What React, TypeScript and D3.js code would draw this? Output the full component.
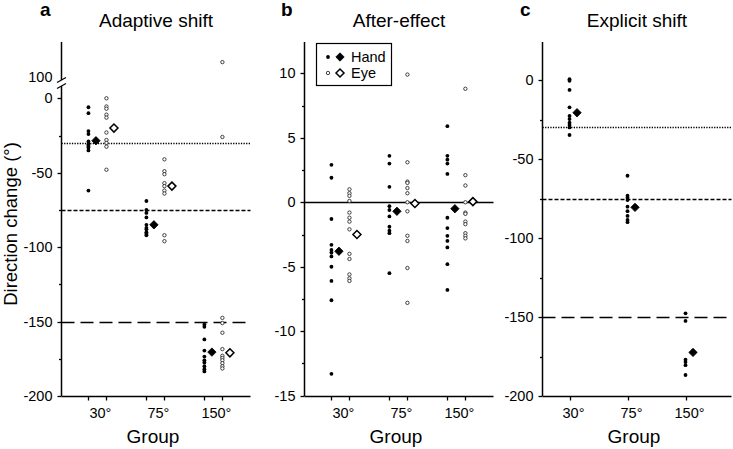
import React from "react";
import * as d3 from "d3";

const groups = ["30°", "75°", "150°"];

// Panel a: Adaptive shift
const adaptHand = [
  [-6, -10, -22, -24, -29, -31, -32, -33, -35, -62],
  [-69, -75, -77, -80, -85, -87, -88, -90, -91, -92],
  [-152, -153.5, -162, -169.5, -173.5, -176, -177.5, -180, -182, -183.5],
];
const adaptEye = [
  [0, -5.5, -7, -11, -13, -23, -28, -30, -32.5, -48],
  [-41, -49, -51, -57, -59, -62, -64, -92, -96],
  [-26, -147.5, -151, -157.5, -168.5, -173, -174.5, -176, -178, -180, -181.5],
];
const adaptEyeOutlier = [null, null, 110];
const adaptHandMean = [-28.5, -85, -170.5];
const adaptEyeMean = [-20, -59, -171];

// Panel b: After-effect
const afterHand = [
  [2.9, 1.9, -1.3, -3.3, -3.7, -3.9, -4.2, -5.0, -6.1, -7.6, -13.3],
  [3.6, 3.0, 1.2, -0.3, -0.6, -1.1, -1.9, -2.2, -2.4, -5.5],
  [5.9, 3.6, 3.3, 3.0, 2.2, -1.2, -2.0, -2.6, -3.0, -3.5, -4.8, -6.8],
];
const afterEye = [
  [1.0, 0.7, 0.5, 0.1, -0.8, -1.2, -1.5, -2.1, -4.0, -4.4, -5.6, -5.9, -6.1],
  [9.9, 3.1, 1.6, 1.5, 1.1, 0.7, 0, -0.7, -2.6, -3.0, -5.1, -7.8],
  [8.8, 2.1, 1.3, 0, -0.8, -0.9, -1.5, -1.7, -2.4, -2.6, -2.8],
];
const afterHandMean = [-3.8, -0.7, -0.5];
const afterEyeMean = [-2.5, -0.1, 0.05];

// Panel c: Explicit shift
const explicitHand = [
  [0.5, -0.5, -6.3, -17.3, -22.8, -24.7, -27, -28.5, -30, -34.8],
  [-60.6, -73.2, -74.5, -76, -80.2, -83, -86, -88.6, -90],
  [-147.7, -152.5, -177, -178.5, -180.5, -186.7],
];
const explicitHandMean = [-20.7, -80.6, -172.4];

const adaptTicks = [-200, -150, -100, -50, 0];
const adaptMinor = [-175, -125, -75, -25];
const afterTicks = [-15, -10, -5, 0, 5, 10];
const afterMinor = [-12.5, -7.5, -2.5, 2.5, 7.5];
const refLines = [
  { v: -30, dash: "1.3,1.3" },
  { v: -75, dash: "4,2" },
  { v: -150, dash: "13,6" },
];

const FONT = "'Liberation Sans', Arial, sans-serif";
const TOP = 42;
const BOTTOM = 396;
const AX_W = 189;
const px = (v: number) => Math.round(v) + 0.5;

const Diamond = ({ x, y, r, filled }: any) => (
  <path
    d={`M${x},${y - r}L${x + r},${y}L${x},${y + r}L${x - r},${y}Z`}
    fill={filled ? "#000" : "#fff"}
    stroke="#000"
    strokeWidth={filled ? 0.8 : 1.5}
  />
);

const Dot = ({ x, y, filled }: any) =>
  filled ? (
    <circle cx={x} cy={y} r={1.9} fill="#000" />
  ) : (
    <circle cx={x} cy={y} r={1.7} fill="#fff" stroke="#222" strokeWidth={0.85} />
  );

function YTicks({ x0, y, major, minor }: any) {
  return (
    <g>
      {major.map((t: number) => (
        <g key={"M" + t}>
          <line x1={x0 - 4} x2={x0} y1={px(y(t))} y2={px(y(t))} stroke="#000" strokeWidth={1.3} />
          <text x={x0 - 9} y={y(t)} dy="0.35em" textAnchor="end" fontSize={14.5} fontFamily={FONT}>
            {t}
          </text>
        </g>
      ))}
      {minor.map((t: number) => (
        <line key={"m" + t} x1={x0 - 2.5} x2={x0} y1={px(y(t))} y2={px(y(t))} stroke="#000" strokeWidth={1.3} />
      ))}
    </g>
  );
}

function Panel({ x0, letter, title, children }: any) {
  return (
    <g>
      <text x={letter.x} y={16} fontSize={19} fontWeight="bold" fontFamily={FONT}>
        {letter.t}
      </text>
      <text x={x0 + AX_W / 2} y={27} textAnchor="middle" fontSize={19} fontFamily={FONT}>
        {title}
      </text>
      <text x={x0 + AX_W / 2 - 3} y={443} textAnchor="middle" fontSize={19} fontFamily={FONT}>
        Group
      </text>
      {children}
    </g>
  );
}

export default function App() {
  // Panel a
  const aX0 = 61.5;
  const xa = d3.scaleLinear().domain([-0.62, 2.64]).range([aX0, aX0 + AX_W]);
  const ya = d3.scaleLinear().domain([-200, 0]).range([BOTTOM, 98.3]);
  const yaUp = d3.scaleLinear().domain([100, 123.5]).range([77, TOP]);

  // Panel b
  const bX0 = 304.5;
  const xb = d3.scaleLinear().domain([-0.62, 2.64]).range([bX0, bX0 + AX_W]);
  const yb = d3.scaleLinear().domain([-15, 10]).range([395.7, 73.3]);

  // Panel c
  const cX0 = 542.5;
  const xc = d3.scaleLinear().domain([-0.466, 2.793]).range([cX0, cX0 + AX_W]);
  const yc = d3.scaleLinear().domain([-200, 0]).range([BOTTOM, 80]);

  const HO = -9; // hand offset
  const EO = 9; // eye offset
  const MO = 7.5; // mean offset

  const xAxisLine = (x0: number) => (
    <line x1={x0} x2={x0 + AX_W} y1={px(BOTTOM)} y2={px(BOTTOM)} stroke="#000" strokeWidth={1.5} />
  );

  const xTicksPair = (x: any) =>
    groups.map((g, i) => (
      <g key={g}>
        <line x1={px(x(i) + HO)} x2={px(x(i) + HO)} y1={BOTTOM} y2={BOTTOM + 4.5} stroke="#000" strokeWidth={1.3} />
        <line x1={px(x(i) + EO)} x2={px(x(i) + EO)} y1={BOTTOM} y2={BOTTOM + 4.5} stroke="#000" strokeWidth={1.3} />
        <text x={x(i) + 3} y={418} textAnchor="middle" fontSize={14.5} fontFamily={FONT}>
          {g}
        </text>
      </g>
    ));

  const refLineEls = (x0: number, y: any) =>
    refLines.map((r) => (
      <line
        key={r.v}
        x1={x0}
        x2={x0 + AX_W}
        y1={px(y(r.v))}
        y2={px(y(r.v))}
        stroke="#000"
        strokeWidth={1.3}
        strokeDasharray={r.dash}
      />
    ));

  return (
    <svg
      width={733}
      height={449}
      style={{ position: "absolute", left: 0, top: 0, background: "#fff" }}
    >
      <rect width={733} height={449} fill="#fff" />
      <text
        transform="translate(17,224) rotate(-90)"
        textAnchor="middle"
        fontSize={18.5}
        fontFamily={FONT}
      >
        Direction change (°)
      </text>

      {/* Panel a */}
      <Panel x0={aX0} letter={{ x: 40, t: "a" }} title="Adaptive shift">
        {refLineEls(aX0, ya)}
        <line x1={aX0} x2={aX0} y1={TOP} y2={80} stroke="#000" strokeWidth={1.5} />
        <line x1={aX0} x2={aX0} y1={86} y2={BOTTOM} stroke="#000" strokeWidth={1.5} />
        <line x1={57} x2={66} y1={82.5} y2={77.5} stroke="#000" strokeWidth={1.3} />
        <line x1={57} x2={66} y1={88.5} y2={83.5} stroke="#000" strokeWidth={1.3} />
        <text x={aX0 - 9} y={yaUp(100)} dy="0.35em" textAnchor="end" fontSize={14.5} fontFamily={FONT}>
          100
        </text>
        <YTicks x0={aX0} y={ya} major={adaptTicks} minor={adaptMinor} />
        {xAxisLine(aX0)}
        {xTicksPair(xa)}
        {groups.map((g, i) => (
          <g key={g}>
            {adaptHand[i].map((v, j) => (
              <Dot key={"h" + j} x={xa(i) + HO} y={ya(v)} filled />
            ))}
            {adaptEye[i].map((v, j) => (
              <Dot key={"e" + j} x={xa(i) + EO} y={ya(v)} />
            ))}
            {adaptEyeOutlier[i] !== null && (
              <Dot x={xa(i) + EO} y={yaUp(adaptEyeOutlier[i] as number)} />
            )}
            <Diamond x={xa(i) + HO + MO} y={ya(adaptHandMean[i])} r={4.2} filled />
            <Diamond x={xa(i) + EO + MO} y={ya(adaptEyeMean[i])} r={4} />
          </g>
        ))}
      </Panel>

      {/* Panel b */}
      <Panel x0={bX0} letter={{ x: 281, t: "b" }} title="After-effect">
        <line x1={bX0} x2={bX0 + AX_W} y1={px(yb(0))} y2={px(yb(0))} stroke="#000" strokeWidth={1.5} />
        <line x1={bX0} x2={bX0} y1={TOP} y2={BOTTOM} stroke="#000" strokeWidth={1.5} />
        <YTicks x0={bX0} y={yb} major={afterTicks} minor={afterMinor} />
        {xAxisLine(bX0)}
        {xTicksPair(xb)}
        {groups.map((g, i) => (
          <g key={g}>
            {afterHand[i].map((v, j) => (
              <Dot key={"h" + j} x={xb(i) + HO} y={yb(v)} filled />
            ))}
            {afterEye[i].map((v, j) => (
              <Dot key={"e" + j} x={xb(i) + EO} y={yb(v)} />
            ))}
            <Diamond x={xb(i) + HO + MO} y={yb(afterHandMean[i])} r={4.2} filled />
            <Diamond x={xb(i) + EO + MO} y={yb(afterEyeMean[i])} r={4} />
          </g>
        ))}
        {/* legend */}
        <rect x={316.5} y={43.5} width={75} height={42} fill="#fff" stroke="#000" strokeWidth={1.2} />
        <Dot x={328} y={57} filled />
        <Diamond x={340} y={57} r={4.2} filled />
        <text x={351} y={57} dy="0.35em" fontSize={14.5} fontFamily={FONT}>
          Hand
        </text>
        <Dot x={328} y={73} />
        <Diamond x={340} y={73} r={4} />
        <text x={351} y={73} dy="0.35em" fontSize={14.5} fontFamily={FONT}>
          Eye
        </text>
      </Panel>

      {/* Panel c */}
      <Panel x0={cX0} letter={{ x: 520, t: "c" }} title="Explicit shift">
        {refLineEls(cX0, yc)}
        <line x1={cX0} x2={cX0} y1={TOP} y2={BOTTOM} stroke="#000" strokeWidth={1.5} />
        <YTicks x0={cX0} y={yc} major={adaptTicks} minor={adaptMinor} />
        {xAxisLine(cX0)}
        {groups.map((g, i) => (
          <g key={g}>
            <line x1={px(xc(i))} x2={px(xc(i))} y1={BOTTOM} y2={BOTTOM + 4.5} stroke="#000" strokeWidth={1.3} />
            <text x={xc(i) + 4} y={418} textAnchor="middle" fontSize={14.5} fontFamily={FONT}>
              {g}
            </text>
            {explicitHand[i].map((v, j) => (
              <Dot key={"h" + j} x={xc(i)} y={yc(v)} filled />
            ))}
            <Diamond x={xc(i) + MO} y={yc(explicitHandMean[i])} r={4.2} filled />
          </g>
        ))}
      </Panel>
    </svg>
  );
}
